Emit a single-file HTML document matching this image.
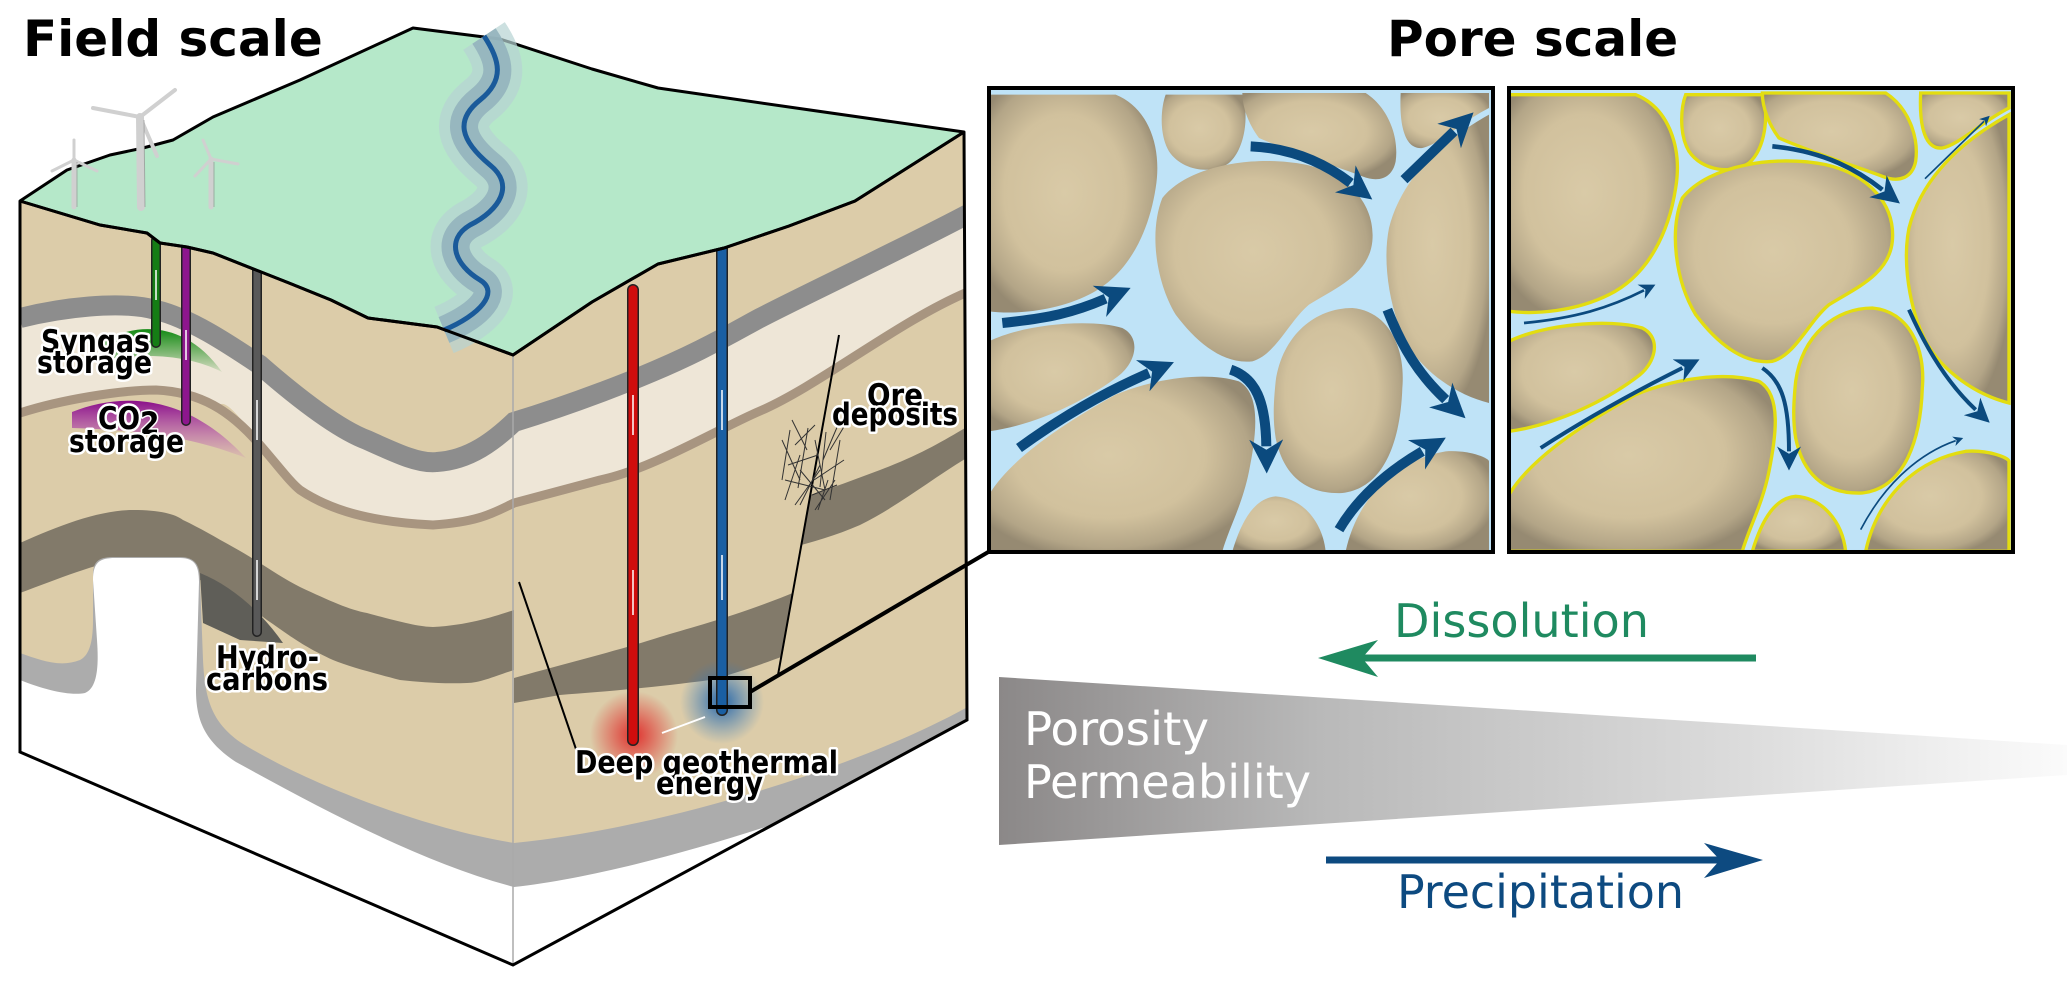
<!DOCTYPE html>
<html><head><meta charset="utf-8"><style>
html,body{margin:0;padding:0;background:#fff;}
svg{display:block;}
.lbl{font-family:"DejaVu Sans Condensed","DejaVu Sans","Liberation Sans",sans-serif;font-weight:bold;font-size:31px;fill:#000;stroke:#fff;stroke-width:5px;paint-order:stroke;stroke-linejoin:round;}
</style></head><body>
<svg width="2067" height="985" viewBox="0 0 2067 985" xmlns="http://www.w3.org/2000/svg">
<defs>
  <clipPath id="box"><path d="M20,201 L100,225 L147,233 L160,243 L187,247 L213,253 L289,283 L331,300 L368,318 L437,327 L513,355 L592,302 L658,264 L724,248 L789,226 L855,201 L964,132 L967,720 L513,965 L20,752 Z"/></clipPath>
  <clipPath id="rf"><path d="M839,335 L778,675 L780,700 L990,700 L990,100 L845,100 Z"/></clipPath>
  <clipPath id="lf"><path d="M0,100 L845,100 L839,335 L778,675 L700,760 L0,760 Z"/></clipPath>
  <radialGradient id="redg"><stop offset="0" stop-color="#e02020" stop-opacity="0.9"/><stop offset="1" stop-color="#e02020" stop-opacity="0"/></radialGradient>
  <radialGradient id="blueg"><stop offset="0" stop-color="#1b5fa8" stop-opacity="0.95"/><stop offset="1" stop-color="#3a7fc0" stop-opacity="0"/></radialGradient>
  <linearGradient id="grnb" x1="0" y1="0" x2="0" y2="1"><stop offset="0" stop-color="#138a13"/><stop offset="1" stop-color="#138a13" stop-opacity="0.1"/></linearGradient>
  <linearGradient id="purb" x1="0" y1="0" x2="0" y2="1"><stop offset="0" stop-color="#8a0f8a"/><stop offset="1" stop-color="#c050c0" stop-opacity="0.1"/></linearGradient>
  <linearGradient id="wedge" x1="0" y1="0" x2="1" y2="0"><stop offset="0" stop-color="#8b8888"/><stop offset="0.3" stop-color="#b9b9b9"/><stop offset="0.7" stop-color="#dcdcdc"/><stop offset="1" stop-color="#fbfbfb"/></linearGradient>
  <radialGradient id="grain" cx="0.45" cy="0.45" r="0.6"><stop offset="0" stop-color="#d9caa7"/><stop offset="0.6" stop-color="#d1c19d"/><stop offset="0.88" stop-color="#b3a587"/><stop offset="1" stop-color="#968a72"/></radialGradient>
  <marker id="ah" viewBox="0 0 10 10" refX="2" refY="5" markerWidth="3.4" markerHeight="3.4" orient="auto"><path d="M0,0 L10,5 L0,10 L3,5 Z" fill="#0b4a7e"/></marker>
  <marker id="ah2" viewBox="0 0 10 10" refX="2" refY="5" markerWidth="6" markerHeight="6" orient="auto"><path d="M0,0 L10,5 L0,10 L3,5 Z" fill="#0b4a7e"/></marker>
  <g id="grains">
    <path d="M0,20 L380,20 C480,60 520,180 500,300 C480,430 420,560 300,620 C200,670 80,680 0,670 Z"/>
    <path d="M530,20 L760,20 C780,80 770,180 720,225 C670,260 580,250 540,190 C510,140 515,60 530,20Z"/>
    <path d="M760,15 L1130,15 C1200,60 1230,150 1220,220 C1210,270 1170,285 1120,265 C1040,235 900,190 810,150 C780,110 760,60 760,15Z"/>
    <path d="M1235,15 L1500,15 L1500,60 C1420,100 1350,170 1300,180 C1250,185 1230,120 1235,15Z"/>
    <path d="M520,330 C600,230 800,200 950,230 C1080,260 1160,350 1150,460 C1140,560 1040,600 960,650 C900,700 860,800 790,820 C700,830 620,760 560,680 C500,580 480,430 520,330Z"/>
    <path d="M1500,80 L1500,945 C1400,920 1300,850 1250,760 C1200,660 1180,520 1200,420 C1230,300 1320,180 1500,80Z"/>
    <path d="M0,760 C100,710 300,690 400,720 C460,750 440,830 380,870 C300,930 150,1010 0,1030Z"/>
    <path d="M0,1390 L0,1220 C60,1120 200,1020 380,920 C500,870 650,850 750,880 C820,920 800,1050 780,1150 C760,1250 720,1320 700,1390Z"/>
    <path d="M860,880 C880,740 980,660 1090,660 C1200,670 1250,780 1240,900 C1235,1050 1190,1200 1060,1215 C940,1220 880,1150 860,1050 C850,990 855,930 860,880Z"/>
    <path d="M730,1390 C760,1290 800,1230 860,1225 C940,1230 1000,1300 1010,1390Z"/>
    <path d="M1070,1390 C1100,1250 1200,1120 1370,1090 C1440,1085 1500,1110 1500,1120 L1500,1390Z"/>
  </g>
  <clipPath id="pc"><rect x="0" y="0" width="1512" height="1392"/></clipPath>
</defs>

<text x="23" y="56" font-family="DejaVu Sans, Liberation Sans, sans-serif" font-weight="bold" font-size="50">Field scale</text>
<text x="1387" y="56" font-family="DejaVu Sans, Liberation Sans, sans-serif" font-weight="bold" font-size="50">Pore scale</text>

<g clip-path="url(#box)">
  <rect x="0" y="100" width="1000" height="900" fill="#dccca9"/>
  <path d="M20,318 C60,308 120,300 156,310 C190,318 230,345 260,365 C300,400 340,430 367,440 C400,455 420,464 437,462 C470,460 495,440 514,422 C560,408 640,380 700,350 C730,335 745,326 760,318 C800,297 900,250 970,213 L970,291 C900,320 820,385 760,411 C720,428 650,470 600,480 L514,503 C495,512 480,522 433,525 C400,525 380,522 367,520 C340,512 320,505 300,490 C280,472 265,450 250,430 C235,412 225,400 219,405 C190,390 160,388 156,390 C120,392 60,400 20,413 Z" fill="#eee6d7"/>
  <path d="M20,318 C60,308 120,300 156,310 C190,318 230,345 260,365 C300,400 340,430 367,440 C400,455 420,464 437,462 C470,460 495,440 514,422 C560,408 640,380 700,350 C730,335 745,326 760,318 C800,297 900,250 970,213" fill="none" stroke="#8d8d8d" stroke-width="20"/>
  <path d="M20,413 C60,400 120,390 156,390 C200,392 230,410 260,445 C280,468 290,482 300,490 C330,510 370,522 433,525 C480,522 495,512 514,503 L600,480 C650,470 720,428 760,411 C820,385 900,320 970,291" fill="none" stroke="#a89580" stroke-width="9"/>
  <path d="M20,543 C60,525 100,510 133,510 C160,510 175,514 183,520 C200,528 215,537 233,547 C260,562 280,577 300,587 C330,601 350,610 367,613 C400,622 420,627 433,627 C470,625 495,616 514,610 L514,670 C495,676 480,683 467,683 C440,684 420,682 400,680 C370,672 350,667 333,660 C300,645 285,632 267,620 C240,600 220,588 200,580 C180,570 160,557 133,557 C100,562 60,578 20,593 Z" fill="#827a6a"/>
  <path d="M514,678 C560,665 620,650 660,637 C700,625 740,615 800,590 L800,650 C760,665 740,672 710,680 C650,688 600,692 560,695 L514,703 Z" fill="#827a6a" clip-path="url(#lf)"/>
  <path d="M760,510 C800,500 840,485 880,470 C920,455 945,440 970,425 L970,456 C930,480 900,505 860,525 C830,538 800,546 760,555 Z" fill="#827a6a" clip-path="url(#rf)"/>
  <path d="M200,573 C230,585 260,610 283,643 L240,640 L203,623 Z" fill="#5f5e58"/>
  <path d="M20,653 C40,660 60,668 80,660 C90,655 93,640 93,620 L93,575 C93,560 100,557 115,557 L180,557 C195,557 200,565 200,580 L203,660 C205,700 212,722 240,742 C300,780 420,828 514,843 C650,830 860,770 980,700 L980,1000 L0,1000 Z" fill="#acacac"/>
  <path d="M20,680 C45,690 70,696 85,693 C97,688 99,668 97,640 L93,580 C93,562 100,558 115,558 L180,558 C195,558 199,566 199,582 L196,690 C196,722 206,742 236,762 C320,808 420,862 514,887 C650,872 860,800 980,745 L980,1000 L0,1000 Z" fill="#fff"/>
  <path d="M100,343 C135,322 185,320 222,372 C190,356 150,352 100,360 Z" fill="url(#grnb)"/>
  <path d="M72,412 C120,393 185,392 246,458 C200,440 150,430 72,428 Z" fill="url(#purb)"/>
  <circle cx="634" cy="735" r="44" fill="url(#redg)"/>
  <circle cx="722" cy="702" r="42" fill="url(#blueg)"/>
  <line x1="513" y1="355" x2="513" y2="965" stroke="#aaa" stroke-width="1.5"/>
  <line x1="519" y1="582" x2="578" y2="755" stroke="#000" stroke-width="2"/>
  <line x1="839" y1="335" x2="778" y2="675" stroke="#000" stroke-width="2"/>
  <g stroke="#333" stroke-width="1" fill="none">
    <path d="M782,440 l18,40 M790,430 l-8,50 M795,445 l20,-20 M800,470 l25,30 M785,500 l15,-45 M808,428 l-10,60 M815,440 l10,50 M820,470 l-25,35 M826,432 l-6,55 M830,450 l15,-25 M835,480 l-20,30 M840,440 l-10,60 M844,460 l-30,20 M788,465 l30,-10 M800,505 l20,-40 M812,495 l25,-10 M792,420 l15,30 M838,425 l-15,35 M818,510 l10,-30 M785,480 l40,10"/>
  </g>
  <line x1="156" y1="240" x2="156" y2="343" stroke="#222" stroke-width="10" stroke-linecap="round"/>
  <line x1="156" y1="240" x2="156" y2="343" stroke="#157d15" stroke-width="7" stroke-linecap="round"/>
  <line x1="186" y1="246" x2="186" y2="421" stroke="#222" stroke-width="10" stroke-linecap="round"/>
  <line x1="186" y1="246" x2="186" y2="421" stroke="#8d168d" stroke-width="7" stroke-linecap="round"/>
  <line x1="257" y1="270" x2="257" y2="632" stroke="#222" stroke-width="10" stroke-linecap="round"/>
  <line x1="257" y1="270" x2="257" y2="632" stroke="#595959" stroke-width="7" stroke-linecap="round"/>
  <line x1="633" y1="290" x2="633" y2="740" stroke="#222" stroke-width="12" stroke-linecap="round"/>
  <line x1="633" y1="290" x2="633" y2="740" stroke="#d00d0d" stroke-width="9" stroke-linecap="round"/>
  <line x1="722" y1="246" x2="722" y2="710" stroke="#222" stroke-width="12" stroke-linecap="round"/>
  <line x1="722" y1="246" x2="722" y2="710" stroke="#1a5fa3" stroke-width="9" stroke-linecap="round"/>
  <g stroke="#fff" stroke-width="1.5">
    <line x1="156" y1="270" x2="156" y2="300"/><line x1="186" y1="330" x2="186" y2="360"/>
    <line x1="257" y1="400" x2="257" y2="440"/><line x1="257" y1="560" x2="257" y2="600"/>
    <line x1="633" y1="395" x2="633" y2="435"/><line x1="633" y1="570" x2="633" y2="615"/>
    <line x1="722" y1="390" x2="722" y2="430"/><line x1="722" y1="555" x2="722" y2="600"/>
    <line x1="705" y1="717" x2="662" y2="733" stroke-width="2"/>
  </g>
</g>

<path d="M20,201 L67,170 L110,155 L143,148 L173,140 L213,117 L300,80 L413,28 L500,39 L592,69 L658,88 L789,107 L964,132 L855,201 L789,226 L724,248 L658,264 L592,302 L513,355 L437,327 L368,318 L331,300 L289,283 L213,253 L187,247 L160,243 L147,233 L100,225 Z" fill="#b5e8c9" stroke="#000" stroke-width="3" stroke-linejoin="round"/>
<path d="M484,36 C500,60 505,80 480,100 C455,120 460,140 490,165 C515,185 500,210 470,225 C445,240 455,265 480,280 C500,292 480,315 444,330" fill="none" stroke="#b7d3d3" stroke-width="50" opacity="0.7"/>
<path d="M484,36 C500,60 505,80 480,100 C455,120 460,140 490,165 C515,185 500,210 470,225 C445,240 455,265 480,280 C500,292 480,315 444,330" fill="none" stroke="#94b3bd" stroke-width="28" opacity="0.9"/>
<path d="M484,36 C500,60 505,80 480,100 C455,120 460,140 490,165 C515,185 500,210 470,225 C445,240 455,265 480,280 C500,292 480,315 444,330" fill="none" stroke="#1a5a9a" stroke-width="5"/>
<path d="M20,201 L100,225 L147,233 L160,243 L187,247 L213,253 L289,283 L331,300 L368,318 L437,327 L513,355 L592,302 L658,264 L724,248 L789,226 L855,201 L964,132" fill="none" stroke="#000" stroke-width="3"/>
<path d="M20,201 L20,752 L513,965 L967,720 L964,132" fill="none" stroke="#000" stroke-width="3"/>

<g stroke="#d0d0d0" stroke-linecap="round">
  <line x1="74" y1="207" x2="74" y2="160" stroke-width="5"/>
  <line x1="74" y1="160" x2="74" y2="140" stroke-width="3"/><line x1="74" y1="160" x2="52" y2="171" stroke-width="3"/><line x1="74" y1="160" x2="97" y2="171" stroke-width="3"/>
  <line x1="141" y1="207" x2="140" y2="117" stroke-width="8"/>
  <line x1="140" y1="117" x2="93" y2="108" stroke-width="4"/><line x1="140" y1="117" x2="175" y2="90" stroke-width="4"/><line x1="140" y1="117" x2="157" y2="156" stroke-width="4"/>
  <line x1="211" y1="207" x2="211" y2="159" stroke-width="5"/>
  <line x1="211" y1="159" x2="203" y2="140" stroke-width="3"/><line x1="211" y1="159" x2="238" y2="164" stroke-width="3"/><line x1="211" y1="159" x2="195" y2="176" stroke-width="3"/>
</g>
<g stroke="#888" stroke-width="1" fill="none" opacity="0.6">
  <line x1="77" y1="207" x2="77" y2="162"/><line x1="145" y1="207" x2="144" y2="120"/><line x1="214" y1="207" x2="214" y2="162"/>
</g>

<rect x="710" y="678" width="40" height="29" fill="none" stroke="#000" stroke-width="4"/>
<line x1="750" y1="692" x2="990" y2="551" stroke="#000" stroke-width="4"/>

<text class="lbl" x="41" y="352" textLength="109" lengthAdjust="spacingAndGlyphs">Syngas</text>
<text class="lbl" x="37" y="373" textLength="115" lengthAdjust="spacingAndGlyphs">storage</text>
<text class="lbl" x="98" y="429" textLength="42" lengthAdjust="spacingAndGlyphs">CO</text>
<text class="lbl" x="140" y="434" font-size="17" style="stroke-width:3px">2</text>
<text class="lbl" x="69" y="452" textLength="115" lengthAdjust="spacingAndGlyphs">storage</text>
<text class="lbl" x="216" y="668" textLength="103" lengthAdjust="spacingAndGlyphs">Hydro-</text>
<text class="lbl" x="206" y="690" textLength="122" lengthAdjust="spacingAndGlyphs">carbons</text>
<text class="lbl" x="867" y="406" textLength="56" lengthAdjust="spacingAndGlyphs">Ore</text>
<text class="lbl" x="832" y="425" textLength="126" lengthAdjust="spacingAndGlyphs">deposits</text>
<text class="lbl" x="575" y="773" textLength="263" lengthAdjust="spacingAndGlyphs">Deep geothermal</text>
<text class="lbl" x="656" y="794" textLength="107" lengthAdjust="spacingAndGlyphs">energy</text>

<g transform="translate(989,88) scale(0.33333)">
  <g clip-path="url(#pc)">
    <rect x="0" y="0" width="1512" height="1392" fill="#bfe3f7"/>
    <use href="#grains" fill="url(#grain)"/>
    <g fill="none" stroke="#0b4a7e" stroke-width="30" marker-end="url(#ah)">
      <path d="M40,705 C180,690 250,675 350,632"/>
      <path d="M90,1080 C200,1000 330,920 480,855"/>
      <path d="M785,175 C900,180 1000,220 1085,285"/>
      <path d="M1245,275 L1395,130"/>
      <path d="M725,845 C800,870 830,940 832,1075"/>
      <path d="M1195,665 C1240,780 1290,860 1370,935"/>
      <path d="M1050,1325 C1100,1240 1180,1160 1300,1090"/>
    </g>
  </g>
  <rect x="0" y="0" width="1512" height="1392" fill="none" stroke="#000" stroke-width="12"/>
</g>

<g transform="translate(1509,88) scale(0.33333)">
  <g clip-path="url(#pc)">
    <rect x="0" y="0" width="1512" height="1392" fill="#bfe3f7"/>
    <use href="#grains" fill="url(#grain)" stroke="#e3dd10" stroke-width="10"/>
    <g fill="none" stroke="#0b4a7e" marker-end="url(#ah2)">
      <path d="M45,705 C200,690 300,660 405,607" stroke-width="8"/>
      <path d="M95,1080 C250,980 400,900 520,840" stroke-width="12"/>
      <path d="M790,175 C950,190 1050,250 1120,305" stroke-width="14"/>
      <path d="M1248,272 L1425,100" stroke-width="5"/>
      <path d="M760,840 C820,880 840,950 840,1090" stroke-width="12"/>
      <path d="M1200,665 C1260,800 1330,900 1400,965" stroke-width="12"/>
      <path d="M1055,1325 C1120,1200 1220,1100 1340,1058" stroke-width="5"/>
    </g>
  </g>
  <rect x="0" y="0" width="1512" height="1392" fill="none" stroke="#000" stroke-width="12"/>
</g>

<text x="1394" y="637" font-family="DejaVu Sans Condensed, DejaVu Sans, Liberation Sans, sans-serif" font-size="46" fill="#1f8a60" textLength="255" lengthAdjust="spacingAndGlyphs">Dissolution</text>
<line x1="1756" y1="658" x2="1360" y2="658" stroke="#1f8a60" stroke-width="7"/>
<path d="M1318,658 L1378,640 L1362,658 L1378,677 Z" fill="#1f8a60"/>
<polygon points="999,677 2067,745 2067,775 999,845" fill="url(#wedge)"/>
<text x="1024" y="745" font-family="DejaVu Sans Condensed, DejaVu Sans, Liberation Sans, sans-serif" font-size="46" fill="#fff" textLength="185" lengthAdjust="spacingAndGlyphs">Porosity</text>
<text x="1024" y="798" font-family="DejaVu Sans Condensed, DejaVu Sans, Liberation Sans, sans-serif" font-size="46" fill="#fff" textLength="287" lengthAdjust="spacingAndGlyphs">Permeability</text>
<line x1="1326" y1="860" x2="1720" y2="860" stroke="#0d4a80" stroke-width="7"/>
<path d="M1763,860 L1704,843 L1720,860 L1704,878 Z" fill="#0d4a80"/>
<text x="1397" y="908" font-family="DejaVu Sans Condensed, DejaVu Sans, Liberation Sans, sans-serif" font-size="46" fill="#0d4a80" textLength="287" lengthAdjust="spacingAndGlyphs">Precipitation</text>
</svg>
</body></html>
